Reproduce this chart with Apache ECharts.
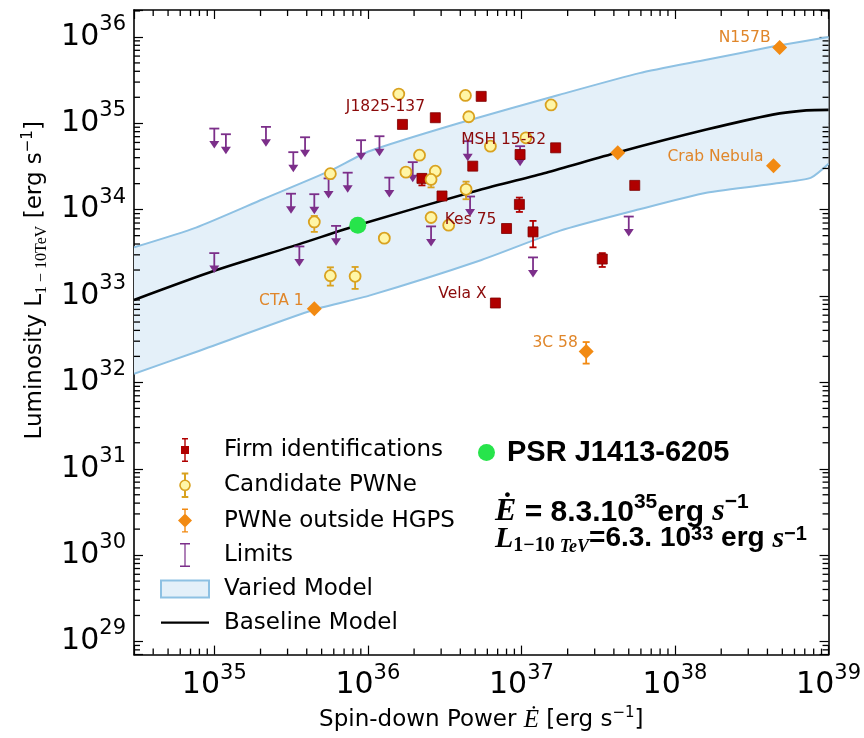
<!DOCTYPE html>
<html>
<head>
<meta charset="utf-8">
<script src="https://cdn.jsdelivr.net/npm/echarts@6/dist/echarts.min.js"></script>
<style>
html,body{margin:0;padding:0;background:#fff;}
#chart{width:864px;height:738px;}
</style>
</head>
<body>
<div id="chart"></div>
<script>
// ---------- data ----------
// Firm identifications
const FIRM_E = [1.68e36, 2.75e36, 5.47e36, 4.82e36, 2.25e36, 3.04e36, 9.8e36, 1.67e37, 5.47e37, 9.7e36, 8.0e36, 1.19e37, 3.36e37, 6.77e36];
const FIRM_L = [9.7e34, 1.16e35, 2.05e35, 3.19e34, 2.30e34, 1.44e34, 4.35e34, 5.2e34, 1.91e34, 1.15e34, 6.05e33, 5.53e33, 2.68e33, 8.3e32];
const FIRM_LO = [null, null, null, null, 1.91e34, null, null, null, null, 9.41e33, null, 3.66e33, 2.17e33, null];
const FIRM_HI = [null, null, null, null, 2.56e34, null, null, null, null, 1.38e34, null, 7.41e33, 3.14e33, null];
const FIRM_NAMES = ['J1825-137', '', '', '', '', '', '', 'MSH 15-52', '', '', 'Kes 75', '', '', 'Vela X'];

// Candidate PWNe
const CAND_E = [1.59e36, 4.32e36, 1.56e37, 4.54e36, 1.07e37, 6.28e36, 2.17e36, 1.77e36, 2.75e36, 2.58e36, 4.36e36, 5.70e35, 4.48e35, 2.58e36, 3.36e36, 1.28e36, 5.70e35, 8.26e35];
const CAND_L = [2.18e35, 2.10e35, 1.63e35, 1.19e35, 6.79e34, 5.43e34, 4.27e34, 2.72e34, 2.79e34, 2.24e34, 1.72e34, 2.61e34, 7.21e33, 8.11e33, 6.61e33, 4.68e33, 1.72e33, 1.69e33];
const CAND_LO = [null, null, null, null, null, null, null, null, null, 1.81e34, 1.32e34, null, 5.53e33, null, null, null, 1.32e33, 1.21e33];
const CAND_HI = [null, null, null, null, null, null, null, null, null, 2.43e34, 2.11e34, null, 8.45e33, null, null, null, 2.15e33, 2.17e33];

// PWNe outside HGPS
const PWNE_E = [4.80e38, 4.24e37, 4.38e38, 4.48e35, 2.64e37];
const PWNE_L = [7.53e35, 4.56e34, 3.23e34, 7.1e32, 2.28e32];
const PWNE_LO = [null, null, null, null, 1.65e32];
const PWNE_HI = [null, null, null, null, 2.93e32];
const PWNE_NAMES = ['N157B', '', 'Crab Nebula', 'CTA 1', '3C 58'];

// Upper limits
const LIM_E = [1.0e35, 1.19e35, 2.17e35, 3.90e35, 3.27e35, 9.03e35, 1.19e36, 5.55e35, 7.39e35, 1.38e36, 1.96e36, 3.16e35, 4.48e35, 6.21e35, 3.58e35, 1.0e35, 2.58e36, 4.47e36, 4.63e36, 9.8e36, 5.0e37, 1.19e37];
const LIM_L = [8.69e34, 7.47e34, 9.09e34, 6.89e34, 4.63e34, 6.37e34, 7.08e34, 2.30e34, 2.68e34, 2.35e34, 3.55e34, 1.53e34, 1.51e34, 6.49e33, 3.75e33, 3.14e33, 6.40e33, 6.20e34, 1.42e34, 5.43e34, 8.32e33, 2.80e33];

// PSR J1413-6205
const PSR_E = [8.6e35];
const PSR_L = [6.6e33];

// Varied model band
const BAND_UP_E = [3e34, 7.6e34, 2.07e35, 5.61e35, 1.02e36, 3.95e36, 1.77e37, 5.87e37, 1.6e38, 4.33e38, 1e39];
const BAND_UP_L = [3.66e33, 6.2e33, 1.32e34, 2.79e34, 4.75e34, 1.01e35, 2.14e35, 3.81e35, 5.43e35, 7.73e35, 1.0e36];
const BAND_LO_E = [3e34, 7.6e34, 4.48e35, 1.02e36, 5.32e36, 1.77e37, 5.87e37, 1.6e38, 5.04e38, 7.7e38, 1e39];
const BAND_LO_L = [1.26e32, 2.25e32, 6.97e32, 1.01e33, 2.56e33, 5.68e33, 1.01e34, 1.57e34, 2.06e34, 2.35e34, 3.4e34];

// Baseline model
const BASE_E = [3e34, 1e35, 3.58e35, 8.55e35, 5.32e36, 1.45e37, 4.22e37, 1.6e38, 4.33e38, 7.16e38, 1e39];
const BASE_L = [9.0e32, 1.96e33, 3.99e33, 6.6e33, 1.69e34, 2.68e34, 4.59e34, 8.45e34, 1.26e35, 1.41e35, 1.43e35];

// axis ranges and tick layout
const X_MIN = 3e34, X_MAX = 1e39;
const Y_MIN = 7.05e28, Y_MAX = 2.05e36;
const X_DECADES = [34, 35, 36, 37, 38];
const Y_DECADES = [28, 29, 30, 31, 32, 33, 34, 35, 36];
const MINOR_MULTS = [2, 3, 4, 5, 6, 7, 8, 9];

// ---------- styles ----------
const C_FIRM = '#b00000', C_FIRM_EDGE = '#7d0000', C_FIRM_TXT = '#8b0a0a';
const C_CAND_FILL = '#fff6a6', C_CAND_EDGE = '#d9a21f';
const C_PWNE = '#f28a12', C_PWNE_TXT = '#e0862a';
const C_LIM = '#7c2f8a';
const C_BAND_FILL = '#e4f0f9', C_BAND_EDGE = '#8ec1e3';
const C_PSR = '#27e44b';
const LABEL_OFFSETS = {
  'J1825-137': [-17, -17], 'MSH 15-52': [-52, -8], 'Kes 75': [-36, -9], 'Vela X': [-33, -9],
  'N157B': [-35, -10], 'Crab Nebula': [-58, -9], 'CTA 1': [-33, -8], '3C 58': [-31, -9]
};
const MINOR_LEN = 6, MINOR_W = 1.3;

// minor tick positions of the log axes (2..9 x 10^n inside the ranges)
function minorValues(decades, lo, hi) {
  const out = [];
  decades.forEach(n => MINOR_MULTS.forEach(m => {
    const v = m * Math.pow(10, n);
    if (v > lo && v < hi) out.push(v);
  }));
  return out;
}
const X_MINOR = minorValues(X_DECADES, X_MIN, X_MAX);
const Y_MINOR = minorValues(Y_DECADES, Y_MIN, Y_MAX);

function pts(E, L, names, color) {
  return E.map((e, i) => {
    const item = {value: [e, L[i]]};
    const nm = names ? names[i] : '';
    if (nm) {
      item.name = nm;
      item.label = {show: true, position: 'inside', formatter: nm, offset: LABEL_OFFSETS[nm],
        color: color, fontSize: 15.5, fontFamily: 'DejaVu Sans'};
    }
    return item;
  });
}
function errData(E, LO, HI) {
  const out = [];
  E.forEach((e, i) => { if (LO[i] != null) out.push([e, LO[i], HI[i]]); });
  return out;
}
function errRenderer(color) {
  return function (params, api) {
    const x = api.value(0), lo = api.value(1), hi = api.value(2);
    const p1 = api.coord([x, lo]), p2 = api.coord([x, hi]);
    const st = {stroke: color, lineWidth: 1.8};
    return {type: 'group', children: [
      {type: 'line', shape: {x1: p1[0], y1: p1[1], x2: p2[0], y2: p2[1]}, style: st},
      {type: 'line', shape: {x1: p1[0] - 3.5, y1: p1[1], x2: p1[0] + 3.5, y2: p1[1]}, style: st},
      {type: 'line', shape: {x1: p2[0] - 3.5, y1: p2[1], x2: p2[0] + 3.5, y2: p2[1]}, style: st}
    ]};
  };
}
// minor ticks drawn as tiny rect symbols sitting on the axis lines, shifted inward
function minorTickSeries(name, data, size, offset) {
  return {
    name: name, type: 'scatter', z: 20, silent: true, clip: false,
    symbol: 'rect', symbolSize: size, symbolOffset: offset,
    itemStyle: {color: '#000', opacity: 1}, emphasis: {disabled: true},
    data: data
  };
}

const tickLabelRich = {
  b: {fontSize: 30, fontFamily: 'DejaVu Sans', color: '#000', lineHeight: 46, verticalAlign: 'middle'},
  s: {fontSize: 21, fontFamily: 'DejaVu Sans', color: '#000', lineHeight: 17, verticalAlign: 'top'}
};
function powFmt(v) {
  const lg = Math.log10(v);
  const e = Math.round(lg);
  if (Math.abs(lg - e) > 1e-6) return '';
  return '{b|10}{s|' + e + '}';
}
function logAxis(pos, min, max, showLabel, extra) {
  return Object.assign({
    type: 'log', position: pos, min: min, max: max,
    axisLine: {show: true, onZero: false, lineStyle: {color: '#000', width: 1.6}},
    axisTick: {show: true, inside: true, length: 9, lineStyle: {color: '#000', width: 1.2}},
    splitLine: {show: false},
    axisLabel: {show: showLabel, formatter: powFmt, rich: tickLabelRich, margin: 8}
  }, extra || {});
}

const textGraphics = [{
  type: 'text', left: 495, top: 492, silent: true,
  style: {
    text: '{e|Ė}{t| = 8.3.10}{sp|35}{t|erg }{e|s}{sp|−1}',
    rich: {
      e: {fontSize: 32, fontFamily: 'Liberation Serif', fontStyle: 'italic', fontWeight: 'bold', fill: '#000', lineHeight: 36, verticalAlign: 'bottom'},
      t: {fontSize: 30, fontFamily: 'Liberation Sans', fontWeight: 'bold', fill: '#000', lineHeight: 36, verticalAlign: 'bottom'},
      sp: {fontSize: 21, fontFamily: 'Liberation Sans', fontWeight: 'bold', fill: '#000', lineHeight: 20, verticalAlign: 'top'}
    }
  }
}, {
  type: 'text', left: 495, top: 524, silent: true,
  style: {
    text: '{e|L}{sb|1−10 }{sbi|TeV}{t|=6.3. 10}{sp|33}{t| erg }{e|s}{sp|−1}',
    rich: {
      e: {fontSize: 30, fontFamily: 'Liberation Serif', fontStyle: 'italic', fontWeight: 'bold', fill: '#000', lineHeight: 32, verticalAlign: 'top'},
      t: {fontSize: 28, fontFamily: 'Liberation Sans', fontWeight: 'bold', fill: '#000', lineHeight: 32, verticalAlign: 'top'},
      sb: {fontSize: 20, fontFamily: 'Liberation Serif', fontWeight: 'bold', fill: '#000', lineHeight: 22, verticalAlign: 'bottom'},
      sbi: {fontSize: 18, fontFamily: 'Liberation Serif', fontStyle: 'italic', fontWeight: 'bold', fill: '#000', lineHeight: 20, verticalAlign: 'bottom'},
      sp: {fontSize: 20, fontFamily: 'Liberation Sans', fontWeight: 'bold', fill: '#000', lineHeight: 18, verticalAlign: 'top'}
    }
  }
}];

const chart = echarts.init(document.getElementById('chart'), null, {renderer: 'canvas'});
const option = {
  animation: false,
  backgroundColor: '#fff',
  grid: {left: 134, right: 35, top: 10, bottom: 81, containLabel: false},
  xAxis: [
    logAxis('bottom', X_MIN, X_MAX, true, {
      name: '{t|Spin-down Power }{i|Ė}{t| [erg s}{sup|−1}{t|]}',
      nameLocation: 'middle', nameGap: 50,
      nameTextStyle: {rich: {
        t: {fontSize: 23, fontFamily: 'DejaVu Sans', color: '#000', lineHeight: 30},
        i: {fontSize: 25, fontFamily: 'Liberation Serif', fontStyle: 'italic', color: '#000', lineHeight: 30},
        sup: {fontSize: 15, fontFamily: 'DejaVu Sans', color: '#000', lineHeight: 14, verticalAlign: 'top'}
      }}
    }),
    logAxis('top', X_MIN, X_MAX, false)
  ],
  yAxis: [
    logAxis('left', Y_MIN, Y_MAX, true, {
      name: '{t|Luminosity L}{sub|1 − 10TeV}{t| [erg s}{sup|−1}{t|]}',
      nameLocation: 'middle', nameGap: 78, nameRotate: 90,
      nameTextStyle: {padding: [0, 0, 0, 104], rich: {
        t: {fontSize: 23, fontFamily: 'DejaVu Sans', color: '#000', lineHeight: 30},
        sub: {fontSize: 16, fontFamily: 'Liberation Serif', color: '#000', lineHeight: 14, verticalAlign: 'bottom'},
        sup: {fontSize: 15, fontFamily: 'DejaVu Sans', color: '#000', lineHeight: 14, verticalAlign: 'top'}
      }}
    }),
    logAxis('right', Y_MIN, Y_MAX, false)
  ],
  legend: [{
    orient: 'vertical', left: 155, top: 433, itemWidth: 48, itemHeight: 24, itemGap: 10.5,
    selectedMode: false,
    textStyle: {fontSize: 23, fontFamily: 'DejaVu Sans', color: '#000', padding: [0, 0, 0, 10]},
    data: [
      {name: 'Firm identifications', icon: 'path://M4.3,0H5.7V24H4.3Z M2,0H8V1.4H2Z M2,22.6H8V24H2Z M1,8H9V16H1Z',
        itemStyle: {color: C_FIRM, borderWidth: 0}},
      {name: 'Candidate PWNe', icon: 'path://M4.8,0H5.2V7H4.8Z M4.8,17H5.2V24H4.8Z M2.5,0H7.5V0.4H2.5Z M2.5,23.6H7.5V24H2.5Z M0,12A5,5 0 1,0 10,12A5,5 0 1,0 0,12Z',
        itemStyle: {color: C_CAND_FILL, borderColor: C_CAND_EDGE, borderWidth: 1.6}},
      {name: 'PWNe outside HGPS', icon: 'path://M6.3,0H7.7V24H6.3Z M4,0H10V1.4H4Z M4,22.6H10V24H4Z M7,5L14,12L7,19L0,12Z',
        itemStyle: {color: C_PWNE, borderWidth: 0}},
      {name: 'Limits', icon: 'path://M4.4,0H5.6V24H4.4Z M0,0H10V1.5H0Z M0,22.5H10V24H0Z',
        itemStyle: {color: C_LIM, borderWidth: 0}},
      {name: 'Varied Model', icon: 'path://M0,0H48V17H0Z',
        itemStyle: {color: C_BAND_FILL, borderColor: C_BAND_EDGE, borderWidth: 2}},
      {name: 'Baseline Model', icon: 'path://M0,0H48V2.4H0Z',
        itemStyle: {color: '#000', borderWidth: 0}}
    ]
  }, {
    orient: 'horizontal', left: 473, top: 433, itemWidth: 17, itemHeight: 17,
    selectedMode: false,
    textStyle: {fontSize: 29, fontWeight: 'bold', fontFamily: 'Liberation Sans', color: '#000', padding: [0, 0, 0, 7]},
    data: [{name: 'PSR J1413-6205', icon: 'circle', itemStyle: {color: C_PSR, borderWidth: 0}}]
  }],
  graphic: {elements: textGraphics},
  series: [
    {
      name: 'Varied Model', type: 'custom', z: 1, clip: true, silent: true,
      itemStyle: {color: C_BAND_FILL, borderColor: C_BAND_EDGE},
      encode: {x: 0, y: 1},
      data: [[BAND_UP_E[0], BAND_UP_L[0]]],
      renderItem: function (params, api) {
        const up = BAND_UP_E.map((e, i) => api.coord([e, BAND_UP_L[i]]));
        const lo = BAND_LO_E.map((e, i) => api.coord([e, BAND_LO_L[i]]));
        return {type: 'group', children: [
          {type: 'polygon', shape: {points: up.concat(lo.slice().reverse())}, style: {fill: C_BAND_FILL, stroke: null}},
          {type: 'polyline', shape: {points: up, smooth: 0.2}, style: {stroke: C_BAND_EDGE, lineWidth: 2, fill: null}},
          {type: 'polyline', shape: {points: lo, smooth: 0.2}, style: {stroke: C_BAND_EDGE, lineWidth: 2, fill: null}}
        ]};
      }
    },
    {
      name: 'Baseline Model', type: 'line', z: 2, symbol: 'none', smooth: 0.25, silent: true,
      itemStyle: {color: '#000'}, lineStyle: {color: '#000', width: 2.6},
      data: BASE_E.map((e, i) => [e, BASE_L[i]])
    },
    {
      name: 'Limits', type: 'custom', z: 3, silent: true,
      itemStyle: {color: C_LIM},
      encode: {x: 0, y: 1},
      data: LIM_E.map((e, i) => [e, LIM_L[i]]),
      renderItem: function (params, api) {
        const p = api.coord([api.value(0), api.value(1)]);
        const st = {stroke: C_LIM, lineWidth: 1.8};
        return {type: 'group', children: [
          {type: 'line', shape: {x1: p[0] - 5, y1: p[1], x2: p[0] + 5, y2: p[1]}, style: st},
          {type: 'line', shape: {x1: p[0], y1: p[1], x2: p[0], y2: p[1] + 14}, style: st},
          {type: 'polygon', shape: {points: [[p[0] - 5, p[1] + 12.5], [p[0] + 5, p[1] + 12.5], [p[0], p[1] + 20]]}, style: {fill: C_LIM}}
        ]};
      }
    },
    {name: 'errFirm', type: 'custom', z: 4, silent: true, encode: {x: 0, y: [1, 2]},
      data: errData(FIRM_E, FIRM_LO, FIRM_HI), renderItem: errRenderer(C_FIRM)},
    {name: 'errCand', type: 'custom', z: 4, silent: true, encode: {x: 0, y: [1, 2]},
      data: errData(CAND_E, CAND_LO, CAND_HI), renderItem: errRenderer(C_CAND_EDGE)},
    {name: 'errPwne', type: 'custom', z: 4, silent: true, encode: {x: 0, y: [1, 2]},
      data: errData(PWNE_E, PWNE_LO, PWNE_HI), renderItem: errRenderer(C_PWNE)},
    {
      name: 'Firm identifications', type: 'scatter', z: 5, symbol: 'rect', symbolSize: 10,
      itemStyle: {color: C_FIRM, borderColor: C_FIRM_EDGE, borderWidth: 0.8, opacity: 1},
      data: pts(FIRM_E, FIRM_L, FIRM_NAMES, C_FIRM_TXT)
    },
    {
      name: 'Candidate PWNe', type: 'scatter', z: 5, symbol: 'circle', symbolSize: 11,
      itemStyle: {color: C_CAND_FILL, borderColor: C_CAND_EDGE, borderWidth: 1.8, opacity: 1},
      data: pts(CAND_E, CAND_L, null, null)
    },
    {
      name: 'PWNe outside HGPS', type: 'scatter', z: 5, symbol: 'diamond', symbolSize: 15,
      itemStyle: {color: C_PWNE, borderWidth: 0, opacity: 1},
      data: pts(PWNE_E, PWNE_L, PWNE_NAMES, C_PWNE_TXT)
    },
    {
      name: 'PSR J1413-6205', type: 'scatter', z: 6, symbol: 'circle', symbolSize: 17,
      itemStyle: {color: C_PSR, opacity: 1},
      data: PSR_E.map((e, i) => [e, PSR_L[i]])
    },
    minorTickSeries('xMinorBottom', X_MINOR.map(v => [v, Y_MIN]), [MINOR_W, MINOR_LEN], [0, -MINOR_LEN / 2]),
    minorTickSeries('xMinorTop', X_MINOR.map(v => [v, Y_MAX]), [MINOR_W, MINOR_LEN], [0, MINOR_LEN / 2]),
    minorTickSeries('yMinorLeft', Y_MINOR.map(v => [X_MIN, v]), [MINOR_LEN, MINOR_W], [MINOR_LEN / 2, 0]),
    minorTickSeries('yMinorRight', Y_MINOR.map(v => [X_MAX, v]), [MINOR_LEN, MINOR_W], [-MINOR_LEN / 2, 0])
  ]
};
chart.setOption(option);
</script>
</body>
</html>
